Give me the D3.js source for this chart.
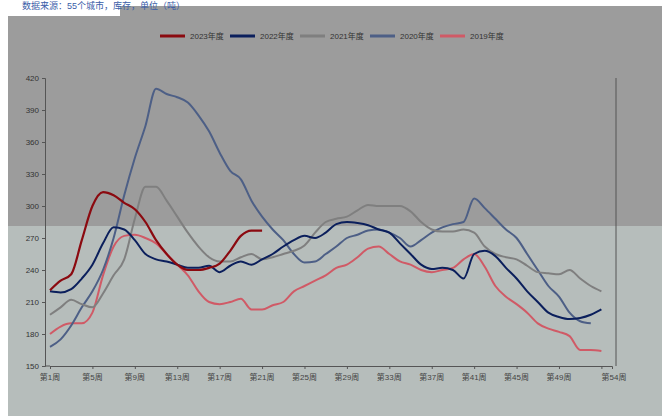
<!DOCTYPE html>
<html><head><meta charset="utf-8">
<script src="https://cdn.jsdelivr.net/npm/d3@7"></script>
<style>body{margin:0;background:#fff}svg{display:block;font-family:"Liberation Sans","Noto Sans CJK SC",sans-serif}</style>
</head><body><svg id="c" width="662" height="416"></svg>
<script>
const years = ["2023年度", "2022年度", "2021年度", "2020年度", "2019年度"]
const colors = ["#8b0a10", "#0b1f5c", "#7f7f7f", "#4d5f86", "#d05a66"]
const y2023 = [221,230,236,268,300,313,310,303,297,285,268,255,245,240,240,242,246,258,272,277,277]
const y2022 = [220,219,222,232,245,265,280,278,268,255,250,248,245,242,242,244,238,244,248,245,250,255,262,268,272,270,275,283,285,284,282,278,275,265,255,245,241,242,240,232,255,258,253,242,232,220,210,200,196,194,195,198,203]
const y2021 = [198,205,212,208,205,218,235,250,288,318,318,305,290,275,262,252,248,248,252,255,250,252,255,258,263,275,285,288,290,296,301,300,300,300,295,285,278,276,276,278,275,262,255,252,250,244,238,237,236,240,232,225,220]
const y2020 = [168,175,188,205,220,240,270,310,345,375,410,405,402,397,385,370,350,333,325,305,290,278,268,255,247,248,255,262,270,273,277,278,275,270,262,268,275,280,283,285,307,298,288,278,270,255,240,225,215,200,192,190]
const y2019 = [180,187,190,190,200,235,262,272,273,270,265,255,245,235,220,210,208,210,213,203,203,207,210,220,225,230,235,242,245,252,260,262,255,248,245,240,238,240,242,250,255,243,225,215,208,200,190,185,182,178,165,165,164]
const series = [y2023, y2022, y2021, y2020, y2019]
const weekTicks = [1,5,9,13,17,21,25,29,33,37,41,45,49,54]
const yTicks = [150,180,210,240,270,300,330,360,390,420]

const svg = d3.select("#c")
svg.append("rect").attr("x", 8).attr("y", 6).attr("width", 654).attr("height", 410).attr("fill", "#9c9c9c")
svg.append("rect").attr("x", 8).attr("y", 226).attr("width", 654).attr("height", 190).attr("fill", "#b6bdbb")
svg.append("rect").attr("x", 0).attr("y", 0).attr("width", 120).attr("height", 16).attr("fill", "#fff")
svg.append("text").attr("x", 22).attr("y", 9).attr("font-size", 9).attr("fill", "#3a5da8")
	.text("数据来源：55个城市，库存，单位（吨）")

const x = d3.scaleLinear().domain([1, 54]).range([50, 612])
const y = d3.scaleLinear().domain([150, 420]).range([366, 78])

svg.append("g").attr("transform", "translate(45,0)")
	.call(d3.axisLeft(y).tickValues(yTicks).tickSize(3))
	.call(g => g.selectAll("text").attr("font-size", 8).attr("fill", "#333"))
	.call(g => g.selectAll("line,path").attr("stroke", "#555"))
svg.append("g").attr("transform", "translate(0,366)")
	.call(d3.axisBottom(x).tickValues(weekTicks.map(w => w === 54 ? 53 : w)).tickSize(3).tickFormat(() => ""))
	.call(g => g.selectAll("line,path").attr("stroke", "#555"))
svg.append("line").attr("x1", 45).attr("x2", 50).attr("y1", 366).attr("y2", 366).attr("stroke", "#555")
weekTicks.forEach(w => {
	svg.append("text").attr("x", w === 54 ? x(54) + 2 : x(w)).attr("y", 380)
		.attr("text-anchor", "middle").attr("font-size", 8).attr("fill", "#444").text(`第${w}周`)
})
svg.append("line").attr("x1", 616).attr("x2", 616).attr("y1", 78).attr("y2", 366).attr("stroke", "#555")

const line = d3.line().x((d, i) => x(i + 1)).y(d => y(d)).curve(d3.curveMonotoneX)
series.slice().reverse().forEach((s, k) => {
	const i = series.length - 1 - k
	svg.append("path").attr("d", line(s)).attr("fill", "none")
		.attr("stroke", colors[i]).attr("stroke-width", i === 0 ? 2.2 : 2)
})

const lg = svg.append("g").attr("transform", "translate(160,36)")
const lx = [0, 70, 140, 210, 280]
years.forEach((t, i) => {
	lg.append("line").attr("x1", lx[i]).attr("x2", lx[i] + 25).attr("stroke", colors[i]).attr("stroke-width", 3)
	lg.append("text").attr("x", lx[i] + 30).attr("y", 3).attr("font-size", 8).attr("fill", "#333").text(t)
})
</script></body></html>
